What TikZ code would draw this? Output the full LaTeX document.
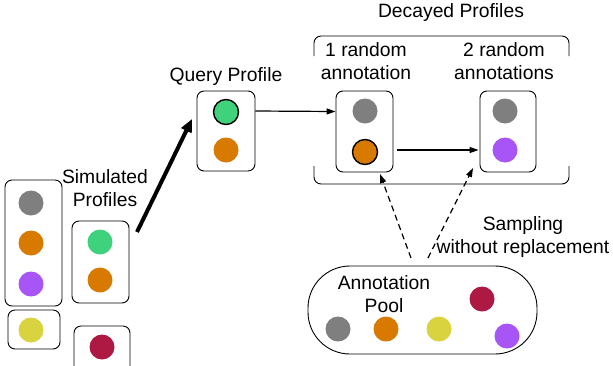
\documentclass[tikz,border=0pt]{standalone}
\usepackage{fontspec}
\setmainfont{Liberation Sans}
\usetikzlibrary{arrows.meta,calc}
\definecolor{cgray}{HTML}{7F7F7F}
\definecolor{corange}{HTML}{D97A00}
\definecolor{cpurple}{HTML}{A855F7}
\definecolor{cgreen}{HTML}{3DD27B}
\definecolor{cyellow}{HTML}{D8D33F}
\definecolor{ccrimson}{HTML}{AD1943}
\begin{document}
\begin{tikzpicture}[x=1pt,y=-1pt,
  profbox/.style={draw, rounded corners=7pt, line width=0.9pt, inner sep=0pt},
  dot/.style={circle, inner sep=0pt, minimum size=25pt, fill=#1},
  odot/.style={circle, inner sep=0pt, minimum size=25pt, fill=#1, draw=black, line width=1.4pt},
  lbl/.style={font=\fontsize{19.3}{23.5}\selectfont, align=center, inner sep=0pt},
  conn/.style={line width=1.2pt, -{Triangle[length=9pt,width=6pt]}},
  dconn/.style={line width=1.2pt, dash pattern=on 6pt off 4pt, -{Triangle[length=9pt,width=6pt]}},
  bigarrow/.style={line width=4pt, -{Triangle[length=13pt,width=11pt]}}
]
\useasboundingbox (0,0) rectangle (613,365);

% Simulated profiles
\node[profbox, minimum width=57pt, minimum height=126pt] (simA) at (33.5,243) {};
\node[dot=cgray] (a1) at (31,203) {};
\node[dot=corange] (a2) at (31,243) {};
\node[dot=cpurple] (a3) at (31,284) {};
\node[profbox, minimum width=57pt, minimum height=82pt] (simB) at (100.5,262) {};
\node[dot=cgreen] (b1) at (100,242) {};
\node[dot=corange] (b2) at (100,280) {};
\node[profbox, minimum width=52pt, minimum height=39pt] (simC) at (34,329.5) {};
\node[dot=cyellow] (c1) at (31,330) {};
\node[profbox, minimum width=56pt, minimum height=50pt] (simD) at (102,351) {};
\node[dot=ccrimson] (d1) at (102,347) {};
\node[lbl] (simlbl) at (105,188) {Simulated\\Profiles};

% Query profile
\node[profbox, minimum width=58pt, minimum height=80pt] (query) at (226,131) {};
\node[odot=cgreen] (q1) at (226,112) {};
\node[dot=corange] (q2) at (226,150) {};
\node[lbl] (qlbl) at (226,77) {Query Profile};

% Decayed profiles
\node[profbox, minimum width=57pt, minimum height=81pt] (dec1) at (364.5,131.5) {};
\node[dot=cgray] (e1) at (365,111) {};
\node[odot=corange] (e2) at (365,152) {};
\node[profbox, minimum width=56pt, minimum height=81pt] (dec2) at (508,131.5) {};
\node[dot=cgray] (f1) at (505,111) {};
\node[dot=cpurple] (f2) at (505,150) {};
\node[lbl] (declbl) at (451,13) {Decayed Profiles};
\node[lbl] (d1lbl) at (366,61) {1 random\\annotation};
\node[lbl] (d2lbl) at (504,61) {2 random\\annotations};
\draw[line width=0.9pt, rounded corners=7pt] (314,56) -- (314,36) -- (569,36) -- (569,56);
\draw[line width=0.9pt, rounded corners=7pt] (314,166) -- (314,184) -- (569,184) -- (569,166);

% Annotation pool
\node[draw, line width=0.9pt, rounded corners=42pt, minimum width=229pt, minimum height=88pt, inner sep=0pt] (pool) at (422.5,310) {};
\node[lbl] (poollbl) at (384,294) {Annotation\\Pool};
\node[dot=cgray] (p1) at (338,329) {};
\node[dot=corange] (p2) at (386,329) {};
\node[dot=cyellow] (p3) at (439,329) {};
\node[dot=ccrimson] (p4) at (482,299) {};
\node[dot=cpurple] (p5) at (507,336) {};
\node[lbl] (samplbl) at (523,237) {Sampling\\without replacement};

% Connectors
\coordinate (bigs) at (137,232);
\coordinate (bige) at (192,119);
\draw[bigarrow] (bigs) -- (bige);
\draw[conn] ([yshift=20pt]query.east) -- ([yshift=20pt]dec1.west);
\draw[conn] ([xshift=4pt,yshift=-18.5pt]dec1.east) -- ([xshift=-1pt,yshift=-18.5pt]dec2.west);
\coordinate (ds1) at (411,258);
\coordinate (de1) at (380,174);
\coordinate (ds2) at (428,258);
\coordinate (de2) at (473,168);
\draw[dconn] (ds1) -- (de1);
\draw[dconn] (ds2) -- (de2);
\end{tikzpicture}
\end{document}
